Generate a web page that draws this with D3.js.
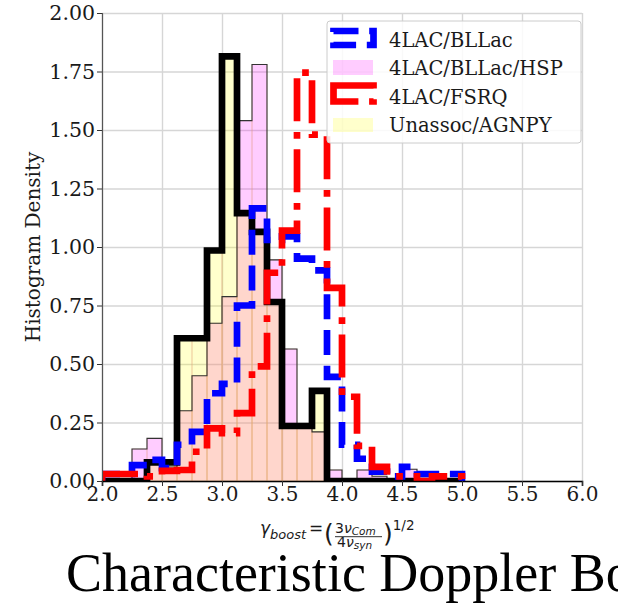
<!DOCTYPE html>
<html>
<head>
<meta charset="utf-8">
<script src="https://cdn.jsdelivr.net/npm/d3@7"></script>
<style>
  body { margin: 0; background: #fff; }
  svg { display: block; }
</style>
</head>
<body>
<svg id="chart"></svg>
<script>
// histogram bins (left edges), width 0.125
const binLefts = [2.0, 2.125, 2.25, 2.375, 2.5, 2.625, 2.75, 2.875, 3.0, 3.125, 3.25, 3.375,
                  3.5, 3.625, 3.75, 3.875, 4.0, 4.125, 4.25, 4.375, 4.5, 4.625, 4.75, 4.875];
const binWidth = 0.125;

// densities
const bllac   = [0.03, 0.03, 0.068, 0.09, 0.055, 0.155, 0.21, 0.375, 0.415, 0.75, 1.165, 1.03,
                 1.045, 0.95, 0.9, 0.445, 0.155, 0.095, 0.04, 0.02, 0.06, 0.03, 0.03, 0.03];
const bllacHsp = [0, 0, 0.137, 0.182, 0.06, 0.30, 0.45, 0.674, 0.788, 1.54, 1.78, 0.945,
                  0.564, 0.23, 0.21, 0.047, 0, 0.047, 0.02, 0, 0.05, 0, 0, 0];
const fsrq    = [0.03, 0.03, 0.03, 0.02, 0.043, 0.047, 0.125, 0.225, 0.205, 0.29, 0.49, 0.89,
                 1.07, 1.745, 1.48, 0.825, 0.36, 0.15, 0.06, 0.02, 0.02, 0, 0.02, 0.02];
const unassoc = [0, 0, 0, 0.08, 0.08, 0.61, 0.61, 0.985, 1.815, 1.145, 1.065, 0.765,
                 0.235, 0.235, 0.385, 0, 0, 0, 0, 0, 0, 0, 0, 0];

const xTicks = [2.0, 2.5, 3.0, 3.5, 4.0, 4.5, 5.0, 5.5, 6.0];
const yTicks = [0, 0.25, 0.5, 0.75, 1.0, 1.25, 1.5, 1.75, 2.0];
const legendLabels = ["4LAC/BLLac", "4LAC/BLLac/HSP", "4LAC/FSRQ", "Unassoc/AGNPY"];

const width = 618, height = 603;
const margin = { top: 13, right: 36, bottom: 122, left: 102 };
const serif = "'DejaVu Serif', serif";
const sans = "'DejaVu Sans', sans-serif";

const svg = d3.select("#chart").attr("width", width).attr("height", height);

const x = d3.scaleLinear().domain([2, 6]).range([margin.left, width - margin.right]);
const y = d3.scaleLinear().domain([0, 2]).range([height - margin.bottom, margin.top]);

svg.append("defs").append("clipPath").attr("id", "plotclip")
  .append("rect")
  .attr("x", x(2)).attr("y", y(2))
  .attr("width", x(6) - x(2)).attr("height", y(0) - y(2));

// grid
svg.append("g")
  .attr("transform", `translate(0,${y(0)})`)
  .call(d3.axisBottom(x).tickValues(xTicks).tickSize(-(y(0) - y(2))).tickFormat(""))
  .call(g => g.select(".domain").remove())
  .call(g => g.selectAll("line").attr("stroke", "#d6d6d6").attr("stroke-width", 1.4));
svg.append("g")
  .attr("transform", `translate(${x(2)},0)`)
  .call(d3.axisLeft(y).tickValues(yTicks).tickSize(-(x(6) - x(2))).tickFormat(""))
  .call(g => g.select(".domain").remove())
  .call(g => g.selectAll("line").attr("stroke", "#d6d6d6").attr("stroke-width", 1.4));

const plot = svg.append("g").attr("clip-path", "url(#plotclip)");

function stepPoints(vals) {
  const pts = [[binLefts[0], 0]];
  vals.forEach((v, i) => {
    pts.push([binLefts[i], v]);
    pts.push([binLefts[i] + binWidth, v]);
  });
  pts.push([binLefts[vals.length - 1] + binWidth, 0]);
  return pts;
}

const line = d3.line().x(d => x(d[0])).y(d => y(d[1]));

function drawBars(vals, color, edge) {
  plot.append("g")
    .selectAll("rect")
    .data(vals.map((v, i) => ({ x0: binLefts[i], v: v })).filter(d => d.v > 0))
    .join("rect")
      .attr("x", d => x(d.x0))
      .attr("y", d => y(d.v))
      .attr("width", d => x(d.x0 + binWidth) - x(d.x0))
      .attr("height", d => y(0) - y(d.v))
      .attr("fill", color)
      .attr("fill-opacity", 0.2)
      .attr("stroke", edge)
      .attr("stroke-opacity", 0.35)
      .attr("stroke-width", 1);
}

function drawOutline(vals) {
  plot.append("path")
    .datum(stepPoints(vals))
    .attr("d", line)
    .attr("fill", "none")
    .attr("stroke", "#333")
    .attr("stroke-width", 1.1);
}

function drawStep(vals, color, dash) {
  plot.append("path")
    .datum(stepPoints(vals))
    .attr("d", line)
    .attr("fill", "none")
    .attr("stroke", color)
    .attr("stroke-width", 6.7)
    .attr("stroke-linejoin", "miter")
    .attr("stroke-dasharray", dash);
}

drawBars(bllacHsp, "#ff00ff", "#e0a080");
drawBars(unassoc, "#ffff00", "#e0a080");
drawOutline(bllacHsp);
drawOutline(unassoc);
drawStep(unassoc, "#000", null);
drawStep(bllac, "#0000ff", "25,10.7");
drawStep(fsrq, "#ff0000", "43,10.7,6.7,10.7");

// axes
const yAxis = svg.append("g")
  .attr("transform", `translate(${x(2)},0)`)
  .call(d3.axisLeft(y).tickValues(yTicks).tickFormat(d3.format(".2f")).tickSize(5).tickPadding(2));
yAxis.select(".domain").attr("stroke", "#555").attr("stroke-width", 1.2);
yAxis.selectAll("line").attr("stroke", "#333");
yAxis.selectAll("text").attr("font-family", serif).attr("font-size", 20.5).attr("fill", "#1a1a1a");

const xAxis = svg.append("g")
  .attr("transform", `translate(0,${y(0)})`)
  .call(d3.axisBottom(x).tickValues(xTicks).tickFormat(d3.format(".1f")).tickSize(5).tickPadding(1));
xAxis.select(".domain").attr("stroke", "#000").attr("stroke-width", 1.6);
xAxis.selectAll("line").attr("stroke", "#333");
xAxis.selectAll("text").attr("font-family", serif).attr("font-size", 20).attr("fill", "#1a1a1a");

// y label
svg.append("text")
  .attr("transform", `translate(40,${(y(0) + y(2)) / 2}) rotate(-90)`)
  .attr("text-anchor", "middle")
  .attr("font-family", serif)
  .attr("font-size", 20)
  .attr("fill", "#1a1a1a")
  .text("Histogram Density");

// x label (math): gamma_boost = (3 nu_Com / 4 nu_syn)^(1/2)
const xl = svg.append("g").attr("font-family", sans).attr("fill", "#1a1a1a");
const lhs = xl.append("text").attr("x", 260).attr("y", 534).attr("font-size", 17);
lhs.append("tspan").attr("font-style", "italic").text("γ");
lhs.append("tspan").attr("font-style", "italic").attr("font-size", 13).attr("dy", 4.5).text("boost");
lhs.append("tspan").attr("dy", -4.5).attr("dx", 3).text("=");
xl.append("text").attr("x", 324).attr("y", 542).attr("font-size", 25).text("(");
const num = xl.append("text").attr("x", 335).attr("y", 533).attr("font-size", 14);
num.append("tspan").text("3");
num.append("tspan").attr("font-style", "italic").text("ν");
num.append("tspan").attr("font-style", "italic").attr("font-size", 10.5).attr("dy", 1.5).text("Com");
xl.append("line").attr("x1", 335).attr("x2", 382).attr("y1", 536.7).attr("y2", 536.7)
  .attr("stroke", "#1a1a1a").attr("stroke-width", 0.9);
const den = xl.append("text").attr("x", 337).attr("y", 547).attr("font-size", 14);
den.append("tspan").text("4");
den.append("tspan").attr("font-style", "italic").text("ν");
den.append("tspan").attr("font-style", "italic").attr("font-size", 10.5).attr("dy", 2).text("syn");
const rp = xl.append("text").attr("x", 383).attr("y", 542).attr("font-size", 25);
rp.append("tspan").text(")");
rp.append("tspan").attr("font-size", 13.5).attr("dy", -12).text("1/2");

// legend
const legend = svg.append("g");
legend.append("rect")
  .attr("x", 327).attr("y", 21).attr("width", 254).attr("height", 122).attr("rx", 3)
  .attr("fill", "#fff").attr("fill-opacity", 0.85)
  .attr("stroke", "#ccc").attr("stroke-width", 1);
const rowY = [38, 67.5, 93.5, 125];
legend.append("rect").attr("x", 333.5).attr("y", rowY[0] - 7).attr("width", 40).attr("height", 14)
  .attr("fill", "none").attr("stroke", "#0000ff").attr("stroke-width", 6.7).attr("stroke-dasharray", "25,10.7");
legend.append("rect").attr("x", 333).attr("y", rowY[1] - 7.5).attr("width", 40).attr("height", 15)
  .attr("fill", "#ff00ff").attr("fill-opacity", 0.2);
legend.append("rect").attr("x", 333.5).attr("y", rowY[2] - 8).attr("width", 40).attr("height", 16)
  .attr("fill", "none").attr("stroke", "#ff0000").attr("stroke-width", 6.7).attr("stroke-dasharray", "43,10.7,6.7,10.7");
legend.append("rect").attr("x", 333).attr("y", rowY[3] - 7).attr("width", 40).attr("height", 14)
  .attr("fill", "#ffff00").attr("fill-opacity", 0.2);
legend.selectAll("text.lbl")
  .data(legendLabels)
  .join("text")
    .attr("class", "lbl")
    .attr("x", 389)
    .attr("y", (d, i) => 47 + i * 28.4)
    .attr("font-family", serif)
    .attr("font-size", 19.5)
    .attr("fill", "#1a1a1a")
    .text(d => d);

// caption below the axes (cut by the right edge)
svg.append("text")
  .attr("x", 66).attr("y", 591)
  .attr("font-family", "'Liberation Serif', 'Times New Roman', serif")
  .attr("font-size", 54)
  .attr("fill", "#000")
  .text("Characteristic Doppler Boost");
</script>
</body>
</html>
